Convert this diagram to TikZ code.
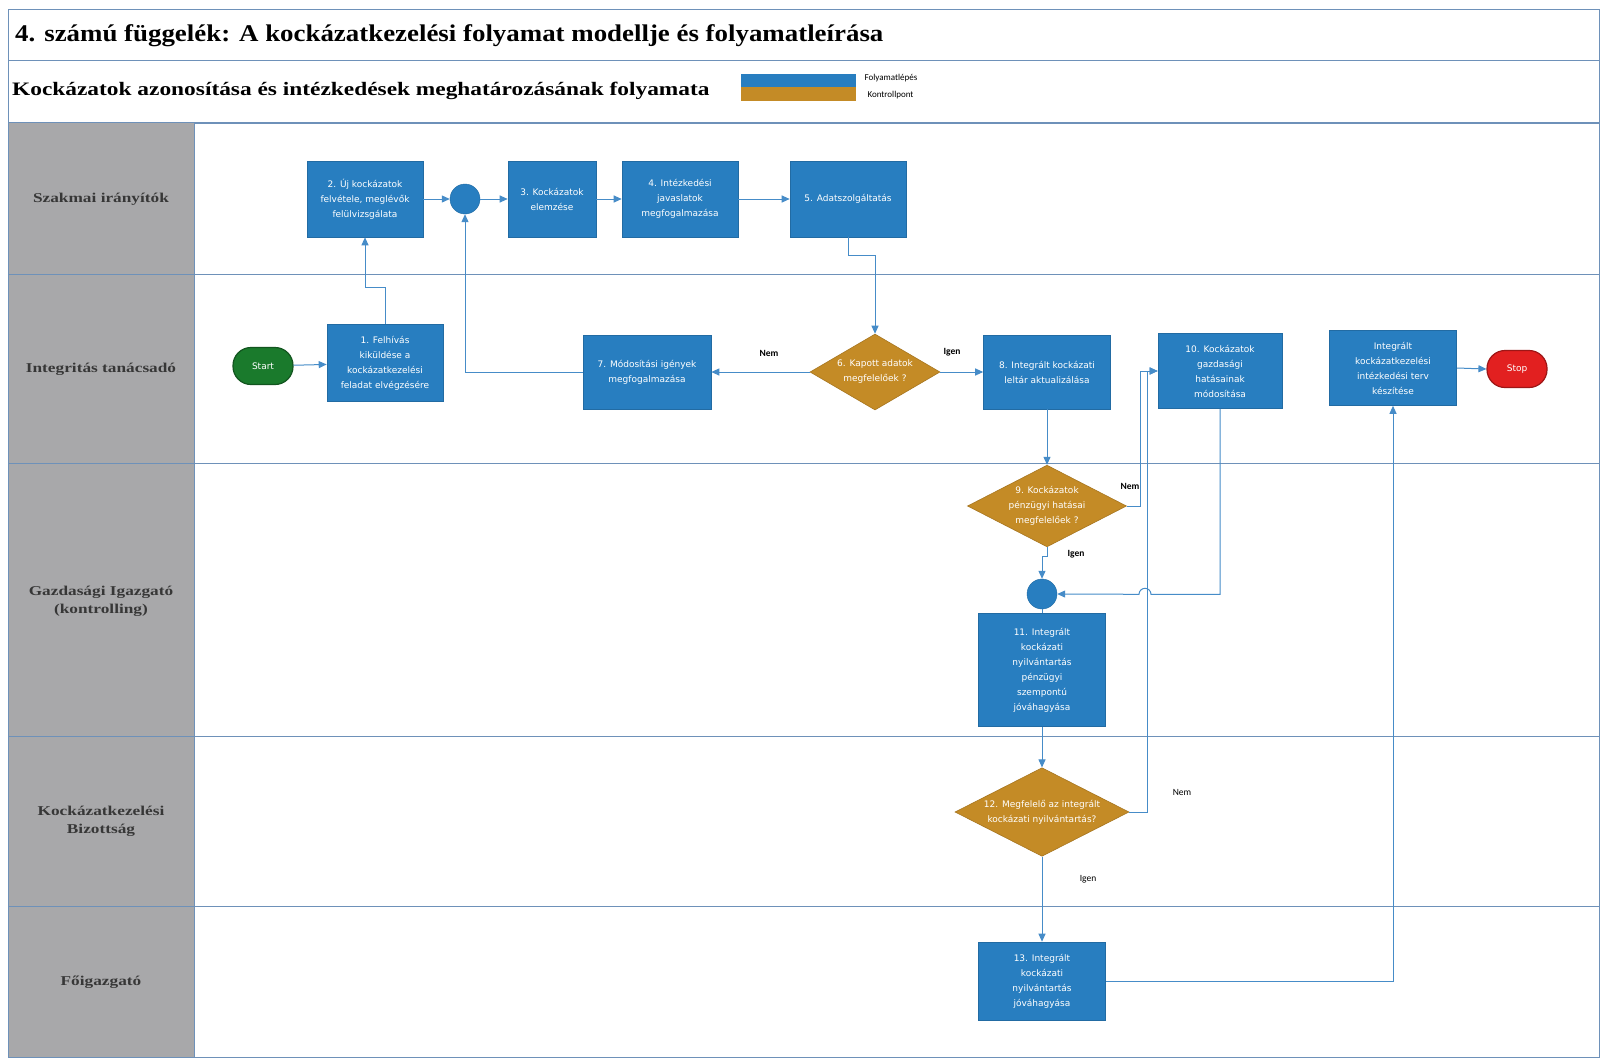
\documentclass[tikz,border=0pt]{standalone}
\usepackage{fontspec}
\setmainfont{Liberation Serif}
\newfontfamily\boxfont{DejaVu Sans}
\newfontfamily\lblfont{Carlito}
\usetikzlibrary{shapes.geometric,arrows.meta,calc}
\definecolor{bluebox}{RGB}{40,126,192}
\definecolor{goldbox}{RGB}{196,139,38}
\definecolor{lanegray}{RGB}{168,168,170}
\definecolor{lineblue}{RGB}{70,140,200}
\definecolor{startgreen}{RGB}{26,122,44}
\definecolor{stopred}{RGB}{226,32,32}
\definecolor{framecol}{RGB}{110,145,185}
\definecolor{lanetext}{RGB}{55,55,55}
\newcommand{\lanetxt}[1]{\scalebox{1.28}[1]{\begin{tabular}{@{}c@{}}#1\end{tabular}}}
\tikzset{
  proc/.style={rectangle, fill=bluebox, draw=bluebox!85!black, line width=0.6pt, text=white,
    font=\boxfont\fontsize{9}{15}\selectfont, align=center, inner sep=2pt},
  decision/.style={diamond, fill=goldbox, draw=goldbox!85!black, line width=0.6pt, text=white,
    font=\boxfont\fontsize{9}{15}\selectfont, align=center, inner sep=0pt, aspect=1.8},
  junction/.style={circle, fill=bluebox, draw=bluebox!85!black, minimum size=30pt, inner sep=0pt},
  terminal/.style={rectangle, rounded corners=18pt, text=white, line width=1.2pt,
    font=\boxfont\fontsize{9}{11}\selectfont, minimum width=60pt, minimum height=37pt},
  conn/.style={draw=lineblue, line width=1pt, -{Triangle[length=8pt,width=7pt]}},
  lbl/.style={font=\lblfont\bfseries\fontsize{9.5}{11}\selectfont, text=black},
  lanelbl/.style={font=\bfseries\fontsize{13.5}{18}\selectfont, text=lanetext, align=center},
  sep/.style={draw=framecol, line width=1pt}
}
\begin{document}
\begin{tikzpicture}[x=1pt,y=-1pt]
\useasboundingbox (0,0) rectangle (1602,1057);
\fill[white] (0,0) rectangle (1602,1057);
% frame and header rows
\draw[sep] (8,10) rectangle (1599,1057);
\draw[sep] (8,61) -- (1599,61);
\draw[sep,line width=1.5pt] (8,123) -- (1599,123);
\node[anchor=west, font=\bfseries\fontsize{24}{26}\selectfont, inner sep=0pt] (title) at (15,36)
  {\scalebox{1.12}[1]{4. számú függelék: A kockázatkezelési folyamat modellje és folyamatleírása}};
\node[anchor=west, font=\bfseries\fontsize{19}{22}\selectfont, inner sep=0pt] (subtitle) at (12,91)
  {\scalebox{1.23}[1]{Kockázatok azonosítása és intézkedések meghatározásának folyamata}};
% legend
\node[fill=bluebox, minimum width=115pt, minimum height=13pt, inner sep=0pt] (legb) at (798.5,80) {};
\node[fill=goldbox, minimum width=115pt, minimum height=14pt, inner sep=0pt] (lego) at (798.5,93.5) {};
\node[anchor=west, font=\lblfont\fontsize{9}{10}\selectfont] (legbt) at (861,78) {Folyamatlépés};
\node[anchor=west, font=\lblfont\fontsize{9}{10}\selectfont] (legot) at (864,95) {Kontrollpont};
% lanes
\fill[lanegray] (8,123) rectangle (194,1057);
\draw[sep] (194,123) -- (194,1057);
\draw[sep] (8,123) -- (8,1057);
\foreach \yy in {274,463,736,906} { \draw[sep] (8,\yy) -- (1599,\yy); }
\node[lanelbl] (l1) at (101,199) {\lanetxt{Szakmai irányítók}};
\node[lanelbl] (l2) at (101,369) {\lanetxt{Integritás tanácsadó}};
\node[lanelbl] (l3) at (101,601) {\lanetxt{Gazdasági Igazgató\\(kontrolling)}};
\node[lanelbl] (l4) at (101,821) {\lanetxt{Kockázatkezelési\\Bizottság}};
\node[lanelbl] (l5) at (101,982) {\lanetxt{Főigazgató}};
% nodes row 1
\node[proc, minimum width=116pt, minimum height=76pt] (b2) at (365,199) {2. Új kockázatok\\felvétele, meglévők\\felülvizsgálata};
\node[junction] (c1) at (465,199) {};
\node[proc, minimum width=88pt, minimum height=76pt] (b3) at (552,199) {3. Kockázatok\\elemzése};
\node[proc, minimum width=116pt, minimum height=76pt] (b4) at (680,199) {4. Intézkedési\\javaslatok\\megfogalmazása};
\node[proc, minimum width=116pt, minimum height=76pt] (b5) at (848,199) {5. Adatszolgáltatás};
% row 2
\node[terminal, fill=startgreen, draw=startgreen!70!black] (start) at (263,366) {Start};
\node[proc, minimum width=116pt, minimum height=77pt] (b1) at (385,363) {1. Felhívás\\kiküldése a\\kockázatkezelési\\feladat elvégzésére};
\node[proc, minimum width=128pt, minimum height=74pt] (b7) at (647,372) {7. Módosítási igények\\megfogalmazása};
\node[decision, minimum width=130pt, minimum height=76pt] (d6) at (875,372) {6. Kapott adatok\\megfelelőek ?};
\node[proc, minimum width=127pt, minimum height=74pt] (b8) at (1047,372) {8. Integrált kockázati\\leltár aktualizálása};
\node[proc, minimum width=124pt, minimum height=75pt] (b10) at (1220,371) {10. Kockázatok\\gazdasági\\hatásainak\\módosítása};
\node[proc, minimum width=127pt, minimum height=75pt] (bt) at (1393,368) {Integrált\\kockázatkezelési\\intézkedési terv\\készítése};
\node[terminal, fill=stopred, draw=stopred!70!black] (stop) at (1517,369) {Stop};
% row 3
\node[decision, minimum width=159pt, minimum height=76pt] (d9) at (1047,506) {9. Kockázatok\\pénzügyi hatásai\\megfelelőek ?};
\node[junction] (c2) at (1042,594) {};
\node[proc, minimum width=127pt, minimum height=113pt] (b11) at (1042,670) {11. Integrált\\kockázati\\nyilvántartás\\pénzügyi\\szempontú\\jóváhagyása};
% row 4
\node[decision, minimum width=174pt, minimum height=77pt] (d12) at (1042,812) {12. Megfelelő az integrált\\kockázati nyilvántartás?};
% row 5
\node[proc, minimum width=127pt, minimum height=78pt] (b13) at (1042,981) {13. Integrált\\kockázati\\nyilvántartás\\jóváhagyása};
% connectors
\draw[conn] (start) -- (b1);
\draw[conn] (b1.north) -- ++(0,-37) -| (b2.south);
\draw[conn] (b2) -- (c1);
\draw[conn] (c1) -- (b3);
\draw[conn] (b3) -- (b4);
\draw[conn] (b4) -- (b5);
\draw[conn] (b5.south) -- ++(0,18) -| (d6.north);
\draw[conn] (d6.west) -- (b7.east);
\draw[conn] (b7.west) -| (c1.south);
\draw[conn] (d6.east) -- (b8.west);
\draw[conn] (b8.south) -- (d9.north);
\draw[conn] (d9.east) -- ++(14,0) |- (b10.west);
\draw[conn] (d12.east) -- ++(18,0) |- (b10.west);
\draw[conn] (b10.south) -- ++(0,185.5) -- ++(-69,0) arc[start angle=0, end angle=-180, radius=6] -- (c2.east);
\draw[conn] (d9.south) -- ++(0,9) -| (c2.north);
\draw[draw=lineblue, line width=1pt] (c2.south) -- (b11.north);
\draw[conn] (b11.south) -- (d12.north);
\draw[conn] (d12.south) -- (b13.north);
\draw[conn] (b13.east) -| (bt.south);
\draw[conn] (bt.east) -- (stop.west);
% labels
\node[lbl] (n1) at (769,353) {Nem};
\node[lbl] (i1) at (952,352) {Igen};
\node[lbl] (n2) at (1130,486) {Nem};
\node[lbl] (i2) at (1076,554) {Igen};
\node[lbl, font=\lblfont\fontsize{9.5}{11}\selectfont] (n3) at (1182,792) {Nem};
\node[lbl, font=\lblfont\fontsize{9.5}{11}\selectfont] (i3) at (1088,879) {Igen};
\end{tikzpicture}
\end{document}
